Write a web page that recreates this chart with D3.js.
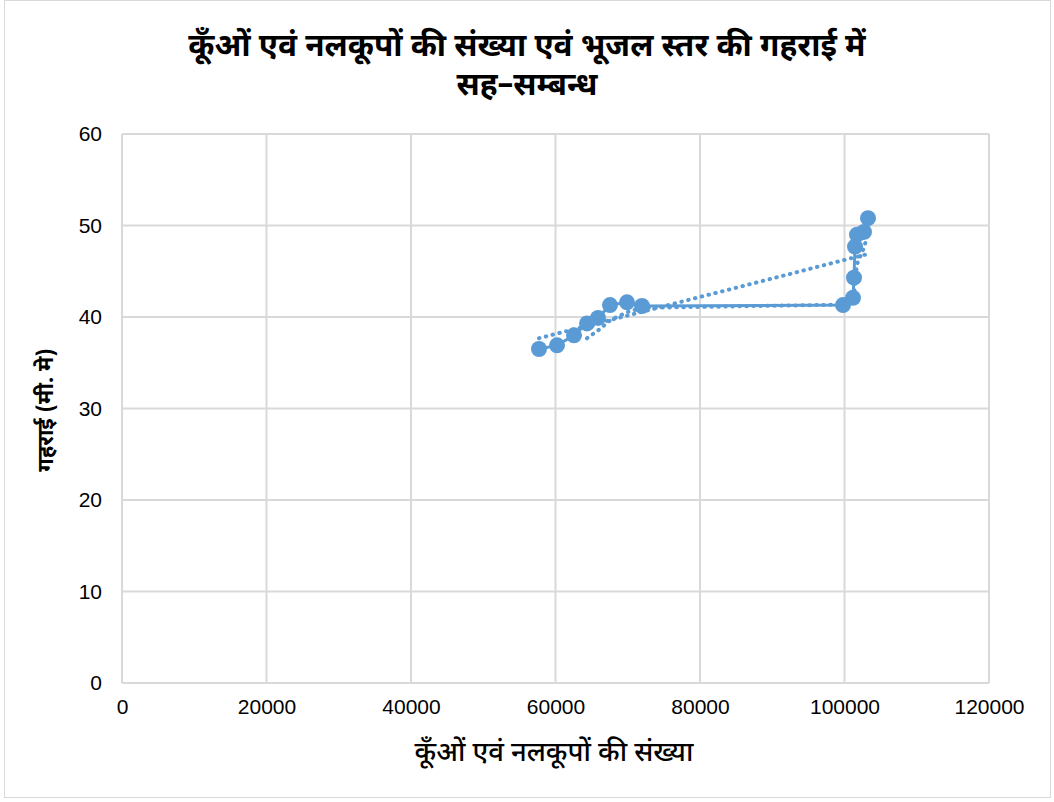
<!DOCTYPE html>
<html>
<head>
<meta charset="utf-8">
<script src="https://cdn.jsdelivr.net/npm/d3@7"></script>
<style>
  body { margin: 0; background: #fff; }
  svg { display: block; }
</style>
</head>
<body>
<svg id="chart" width="1054" height="802"></svg>
<script>
// Number of wells and tube wells (x) against depth of groundwater level in metres (y)
const wellCounts = [57716, 60208, 62561, 64360, 65882, 67543, 69896, 71972,
                    99792, 101176, 101315, 101453, 101730, 102699, 103253];
const depths = [36.5, 36.9, 38.0, 39.3, 39.9, 41.3, 41.6, 41.2,
                41.3, 42.1, 44.3, 47.7, 49.0, 49.3, 50.8];

const xTickValues = [0, 20000, 40000, 60000, 80000, 100000, 120000];
const yTickValues = [0, 10, 20, 30, 40, 50, 60];

const titleLines = ["कूँओं एवं नलकूपों की संख्या एवं भूजल स्तर की गहराई में", "सह–सम्बन्ध"];
const xAxisTitle = "कूँओं एवं नलकूपों की संख्या";
const yAxisTitle = "गहराई (मी. मे)";

const movingAveragePeriod = 4;

const seriesColor = "#5B9BD5";
const gridColor = "#D9D9D9";
const tickFont = "'Liberation Sans Narrow', 'Arial Narrow', 'Liberation Sans', sans-serif";
const hindiFont = "'Noto Sans Devanagari', 'Lohit Devanagari', 'Mangal', 'Noto Sans', sans-serif";

const svg = d3.select("#chart");

// chart frame
svg.append("rect")
  .attr("x", 4.5).attr("y", 0.5)
  .attr("width", 1046).attr("height", 797)
  .attr("fill", "#fff").attr("stroke", gridColor).attr("stroke-width", 1);

const plot = { left: 122, right: 989, top: 134, bottom: 683 };

const x = d3.scaleLinear().domain([0, 120000]).range([plot.left, plot.right]);
const y = d3.scaleLinear().domain([0, 60]).range([plot.bottom, plot.top]);

// gridlines
svg.append("g")
  .selectAll("line")
  .data(xTickValues)
  .join("line")
  .attr("x1", d => x(d)).attr("x2", d => x(d))
  .attr("y1", plot.top).attr("y2", plot.bottom)
  .attr("stroke", gridColor).attr("stroke-width", 2);

svg.append("g")
  .selectAll("line")
  .data(yTickValues)
  .join("line")
  .attr("x1", plot.left).attr("x2", plot.right)
  .attr("y1", d => y(d)).attr("y2", d => y(d))
  .attr("stroke", gridColor).attr("stroke-width", 2);

// axes (tick labels only)
const xAxis = svg.append("g")
  .attr("transform", `translate(0,${plot.bottom})`)
  .call(d3.axisBottom(x).tickValues(xTickValues).tickFormat(d3.format("d")).tickSize(0).tickPadding(16));
const yAxis = svg.append("g")
  .attr("transform", `translate(${plot.left},0)`)
  .call(d3.axisLeft(y).tickValues(yTickValues).tickFormat(d3.format("d")).tickSize(0).tickPadding(20));

[xAxis, yAxis].forEach(a => {
  a.select(".domain").remove();
  a.selectAll("text")
    .attr("font-family", tickFont)
    .attr("font-size", 21)
    .attr("fill", "#000");
});

// data series
const points = wellCounts.map((v, i) => [v, depths[i]]);

const line = d3.line().x(d => x(d[0])).y(d => y(d[1]));

svg.append("path")
  .datum(points)
  .attr("d", line)
  .attr("fill", "none")
  .attr("stroke", seriesColor)
  .attr("stroke-width", 3)
  .attr("stroke-linejoin", "round");

svg.append("g")
  .selectAll("circle")
  .data(points)
  .join("circle")
  .attr("cx", d => x(d[0]))
  .attr("cy", d => y(d[1]))
  .attr("r", 8)
  .attr("fill", seriesColor);

// linear trendline (least squares)
const mx = d3.mean(wellCounts), my = d3.mean(depths);
const sxy = d3.sum(points, d => (d[0] - mx) * (d[1] - my));
const sxx = d3.sum(points, d => (d[0] - mx) ** 2);
const slope = sxy / sxx, intercept = my - slope * mx;
const xExtent = d3.extent(wellCounts);
const linearTrend = xExtent.map(v => [v, intercept + slope * v]);

// moving-average trendline
const movingAverage = points.slice(movingAveragePeriod - 1).map((d, i) =>
  [d[0], d3.mean(depths.slice(i, i + movingAveragePeriod))]);

[linearTrend, movingAverage].forEach(tr => {
  svg.append("path")
    .datum(tr)
    .attr("d", line)
    .attr("fill", "none")
    .attr("stroke", seriesColor)
    .attr("stroke-width", 4)
    .attr("stroke-linecap", "round")
    .attr("stroke-dasharray", "0.5 6.5");
});

// titles
const title = svg.append("text")
  .attr("text-anchor", "middle")
  .attr("font-family", hindiFont)
  .attr("font-weight", "bold")
  .attr("font-size", 31.5)
  .attr("fill", "#000");
titleLines.forEach((t, i) => {
  title.append("tspan").attr("x", 527).attr("y", 56 + i * 39).text(t);
});

svg.append("text")
  .attr("x", 554).attr("y", 761)
  .attr("text-anchor", "middle")
  .attr("font-family", hindiFont)
  .attr("font-weight", 500)
  .attr("font-size", 27.5)
  .attr("fill", "#000")
  .text(xAxisTitle);

svg.append("text")
  .attr("transform", "translate(53,410) rotate(-90)")
  .attr("text-anchor", "middle")
  .attr("font-family", hindiFont)
  .attr("font-weight", "bold")
  .attr("font-size", 22)
  .attr("fill", "#000")
  .text(yAxisTitle);
</script>
</body>
</html>
